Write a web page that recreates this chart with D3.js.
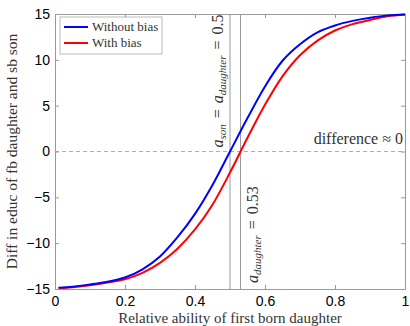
<!DOCTYPE html>
<html lang="en">
<head>
    <meta charset="UTF-8">
    <title>Diff in educ</title>
    <script src="https://d3js.org/d3.v7.min.js"></script>
    <style>
        body {
            margin: 0;
            padding: 0;
            background-color: #fff;
        }
        svg {
            display: block;
        }
        .tick text {
            font-family: 'Liberation Sans', Arial, sans-serif;
            font-size: 14px;
            fill: #000;
        }
        .serif {
            font-family: 'Liberation Serif', 'Times New Roman', serif;
            fill: #333;
        }
    </style>
</head>
<body>
    <script>
        // relative ability of first born daughter
        const ability = [0.01, 0.05, 0.1, 0.15, 0.2, 0.25, 0.3, 0.35, 0.4, 0.45, 0.5,
                         0.55, 0.6, 0.65, 0.7, 0.75, 0.8, 0.85, 0.9, 0.95, 1.0];
        // difference in education
        const withoutBias = [-14.85, -14.75, -14.5, -14.2, -13.75, -12.85, -11.45, -9.35, -6.8, -3.65, 0,
                             3.65, 7.1, 9.9, 11.7, 13.0, 13.75, 14.25, 14.6, 14.85, 14.95];
        const withBias = [-14.9, -14.8, -14.6, -14.3, -13.95, -13.25, -12.15, -10.6, -8.5, -5.8, -2.3,
                          1.5, 5.1, 8.2, 10.5, 12.1, 13.2, 13.9, 14.35, 14.75, 14.95];
        const seriesNames = ["Without bias", "With bias"];
        const seriesColors = ["#0000ff", "#ff0000"];
        const xTicks = [0, 0.2, 0.4, 0.6, 0.8, 1];
        const yTicks = [-15, -10, -5, 0, 5, 10, 15];
        const equalAbility = 0.5;
        const biasAbility = 0.53;

        const width = 410, height = 326;
        const margin = { top: 14, right: 5, bottom: 37, left: 55 };
        const w = width - margin.left - margin.right;
        const h = height - margin.top - margin.bottom;

        const svg = d3.select("body").append("svg")
            .attr("width", width)
            .attr("height", height);

        const g = svg.append("g")
            .attr("transform", `translate(${margin.left},${margin.top})`);

        const x = d3.scaleLinear().domain([0, 1]).range([0, w]);
        const y = d3.scaleLinear().domain([-15, 15]).range([h, 0]);

        const axisColor = "#999";

        // axes, MATLAB style: box with inward ticks
        const xAxis = g.append("g")
            .attr("transform", `translate(0,${h})`)
            .call(d3.axisBottom(x).tickValues(xTicks).tickSize(-4).tickPadding(7)
                .tickFormat(d3.format("~g")));
        const yAxis = g.append("g")
            .call(d3.axisLeft(y).tickValues(yTicks).tickSize(-4).tickPadding(5));
        const topAxis = g.append("g")
            .call(d3.axisTop(x).tickValues(xTicks).tickSize(-4).tickFormat(""));
        const rightAxis = g.append("g")
            .attr("transform", `translate(${w},0)`)
            .call(d3.axisRight(y).tickValues(yTicks).tickSize(-4).tickFormat(""));

        [xAxis, yAxis, topAxis, rightAxis].forEach(a => {
            a.select(".domain").attr("stroke", axisColor);
            a.selectAll(".tick line").attr("stroke", axisColor);
        });

        // reference lines
        g.append("line")
            .attr("x1", 0).attr("x2", w)
            .attr("y1", y(0)).attr("y2", y(0))
            .attr("stroke", "#999")
            .attr("stroke-dasharray", "4,3")
            .attr("stroke-width", 0.8);

        [equalAbility, biasAbility].forEach(a => {
            g.append("line")
                .attr("x1", x(a)).attr("x2", x(a))
                .attr("y1", 0).attr("y2", h)
                .attr("stroke", "#999")
                .attr("stroke-width", 1);
        });

        // curves
        const line = d3.line()
            .x((d, i) => x(ability[i]))
            .y(d => y(d))
            .curve(d3.curveCatmullRom.alpha(0.5));

        // red first so blue sits on top
        [withBias, withoutBias].forEach((s, k) => {
            g.append("path")
                .attr("d", line(s))
                .attr("fill", "none")
                .attr("stroke", seriesColors[1 - k])
                .attr("stroke-width", 2);
        });

        // math-ish label: italic a with italic subscript
        function mathLabel(sel, parts) {
            parts.forEach(p => {
                const t = sel.append("tspan").text(p.t);
                if (p.sub) {
                    t.attr("baseline-shift", "-25%").style("font-size", "11px")
                        .style("font-style", "italic");
                } else if (p.it) {
                    t.style("font-style", "italic");
                }
                if (p.dx) t.attr("dx", p.dx);
            });
        }

        const ann1 = g.append("text")
            .attr("class", "serif")
            .attr("transform", `translate(${x(equalAbility) - 7},${y(0) - 4}) rotate(-90)`)
            .style("font-size", "16px");
        mathLabel(ann1, [
            { t: "a", it: true }, { t: "son", sub: true },
            { t: "=", dx: 6 }, { t: "a", it: true, dx: 6 }, { t: "daughter", sub: true },
            { t: "=", dx: 6 }, { t: "0.5", dx: 6 }
        ]);

        const ann2 = g.append("text")
            .attr("class", "serif")
            .attr("transform", `translate(${x(biasAbility) + 17},${h - 6}) rotate(-90)`)
            .style("font-size", "16px");
        mathLabel(ann2, [
            { t: "a", it: true }, { t: "daughter", sub: true },
            { t: "=", dx: 6 }, { t: "0.53", dx: 6 }
        ]);

        g.append("text")
            .attr("class", "serif")
            .attr("x", w - 2)
            .attr("y", y(0) - 8)
            .attr("text-anchor", "end")
            .style("font-size", "16px")
            .text("difference \u2248 0");

        // legend
        const legend = g.append("g").attr("transform", "translate(5,3)");
        legend.append("rect")
            .attr("width", 102).attr("height", 37)
            .attr("fill", "#fff")
            .attr("stroke", "#aaa")
            .attr("stroke-width", 0.8);
        seriesNames.forEach((name, i) => {
            const ly = 10 + i * 16;
            legend.append("line")
                .attr("x1", 4).attr("x2", 28)
                .attr("y1", ly).attr("y2", ly)
                .attr("stroke", seriesColors[i])
                .attr("stroke-width", 2);
            legend.append("text")
                .attr("class", "serif")
                .attr("x", 32).attr("y", ly + 4)
                .style("font-size", "13px")
                .text(name);
        });

        // axis labels
        svg.append("text")
            .attr("class", "serif")
            .attr("x", margin.left + w / 2)
            .attr("y", height - 3)
            .attr("text-anchor", "middle")
            .style("font-size", "15px")
            .text("Relative ability of first born daughter");

        svg.append("text")
            .attr("class", "serif")
            .attr("transform", `translate(17,${margin.top + h / 2}) rotate(-90)`)
            .attr("text-anchor", "middle")
            .style("font-size", "15.5px")
            .text("Diff in educ of fb daughter and sb son");
    </script>
</body>
</html>
